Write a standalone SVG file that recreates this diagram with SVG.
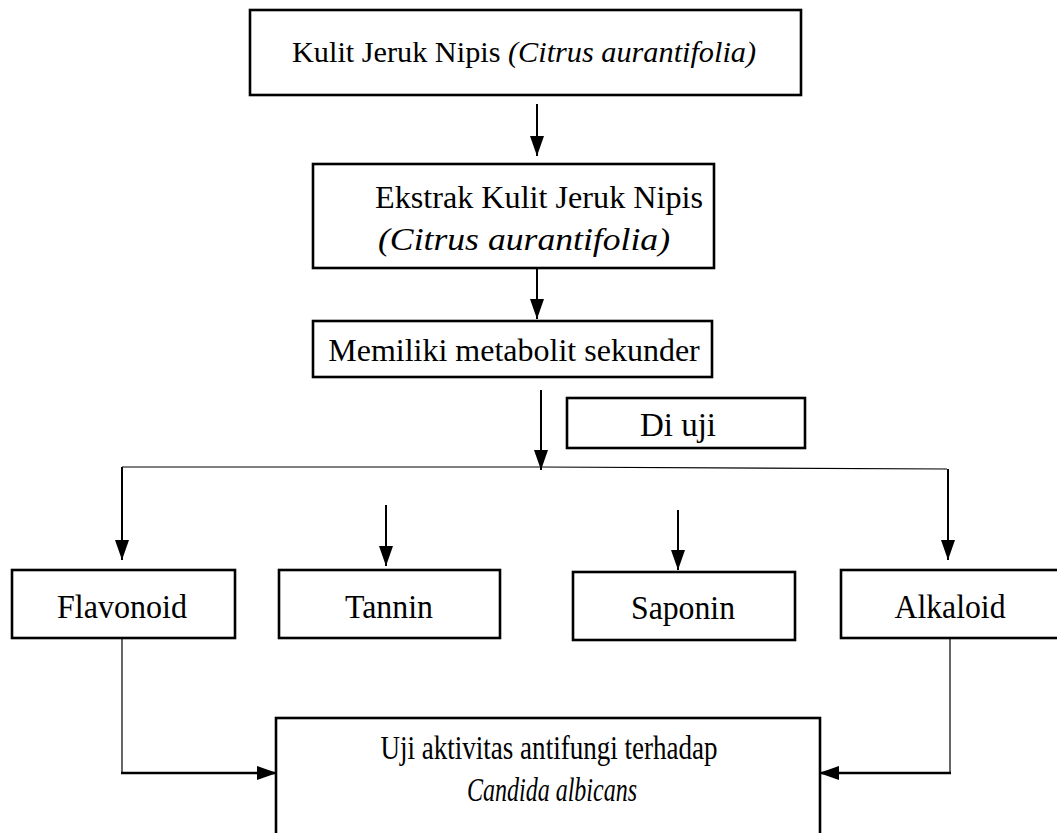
<svg xmlns="http://www.w3.org/2000/svg" width="1057" height="833" viewBox="0 0 1057 833">
<style>
.box{fill:#fff;stroke:#000;stroke-width:2.6}
.t{font-family:"Liberation Serif","Times New Roman",serif;fill:#000;text-anchor:middle}
.i{font-style:italic}
.c{fill:none;stroke:#000;stroke-width:2}
.h{fill:none;stroke:#000;stroke-width:2.4}
.thin{fill:none;stroke:#000;stroke-width:1.2}
</style>
<defs>
<marker id="ah" markerUnits="userSpaceOnUse" markerWidth="20" markerHeight="14" refX="20" refY="7" viewBox="0 0 20 14" orient="auto">
<path d="M0,0 L20,7 L0,14 z" fill="#000"/>
</marker>
</defs>
<g id="connectors">
<line class="c" x1="537" y1="104" x2="537" y2="156" marker-end="url(#ah)"/>
<line class="c" x1="537" y1="268" x2="537" y2="319" marker-end="url(#ah)"/>
<line class="c" x1="541" y1="390" x2="541" y2="470" marker-end="url(#ah)"/>
<polyline class="thin" points="122,467 541,467 947,469"/>
<line class="c" x1="122" y1="467" x2="122" y2="560" marker-end="url(#ah)"/>
<line class="c" x1="386" y1="505" x2="386" y2="566" marker-end="url(#ah)"/>
<line class="c" x1="678" y1="510" x2="678" y2="570" marker-end="url(#ah)"/>
<line class="c" x1="948" y1="469" x2="948" y2="560" marker-end="url(#ah)"/>
<polyline class="thin" points="122,638 122,773"/>
<line class="h" x1="121" y1="773" x2="277" y2="773" marker-end="url(#ah)"/>
<polyline class="thin" points="950,638 950,773"/>
<line class="h" x1="951" y1="773" x2="819" y2="773" marker-end="url(#ah)"/>
</g>
<g id="n1">
<rect class="box" x="250" y="10" width="551" height="85"/>
<text class="t" x="524" y="62" font-size="30" textLength="464" lengthAdjust="spacingAndGlyphs">Kulit Jeruk Nipis <tspan class="i">(Citrus aurantifolia)</tspan></text>
</g>
<g id="n2">
<rect class="box" x="313" y="164" width="401" height="104"/>
<text class="t" x="539" y="208" font-size="32" textLength="328" lengthAdjust="spacingAndGlyphs">Ekstrak Kulit Jeruk Nipis</text>
<text class="t i" x="524" y="250" font-size="32" textLength="292" lengthAdjust="spacingAndGlyphs">(Citrus aurantifolia)</text>
</g>
<g id="n3">
<rect class="box" x="313" y="321" width="399" height="56"/>
<text class="t" x="514" y="361" font-size="32">Memiliki metabolit sekunder</text>
</g>
<g id="n4">
<rect class="box" x="567" y="398" width="238" height="50"/>
<text class="t" x="678" y="436" font-size="33">Di uji</text>
</g>
<g id="n5">
<rect class="box" x="12" y="570" width="223" height="68"/>
<text class="t" x="122" y="618" font-size="33" textLength="130" lengthAdjust="spacingAndGlyphs">Flavonoid</text>
</g>
<g id="n6">
<rect class="box" x="279" y="570" width="221" height="68"/>
<text class="t" x="389" y="618" font-size="33" textLength="88" lengthAdjust="spacingAndGlyphs">Tannin</text>
</g>
<g id="n7">
<rect class="box" x="573" y="572" width="222" height="68"/>
<text class="t" x="683" y="619" font-size="33" textLength="104" lengthAdjust="spacingAndGlyphs">Saponin</text>
</g>
<g id="n8">
<rect class="box" x="841" y="570" width="230" height="68"/>
<text class="t" x="950" y="618" font-size="33" textLength="111" lengthAdjust="spacingAndGlyphs">Alkaloid</text>
</g>
<g id="n9">
<rect class="box" x="276" y="718" width="544" height="140"/>
<text class="t" x="549" y="759" font-size="34" textLength="337" lengthAdjust="spacingAndGlyphs">Uji aktivitas antifungi terhadap</text>
<text class="t i" x="552" y="801" font-size="34" textLength="170" lengthAdjust="spacingAndGlyphs">Candida albicans</text>
</g>
</svg>
